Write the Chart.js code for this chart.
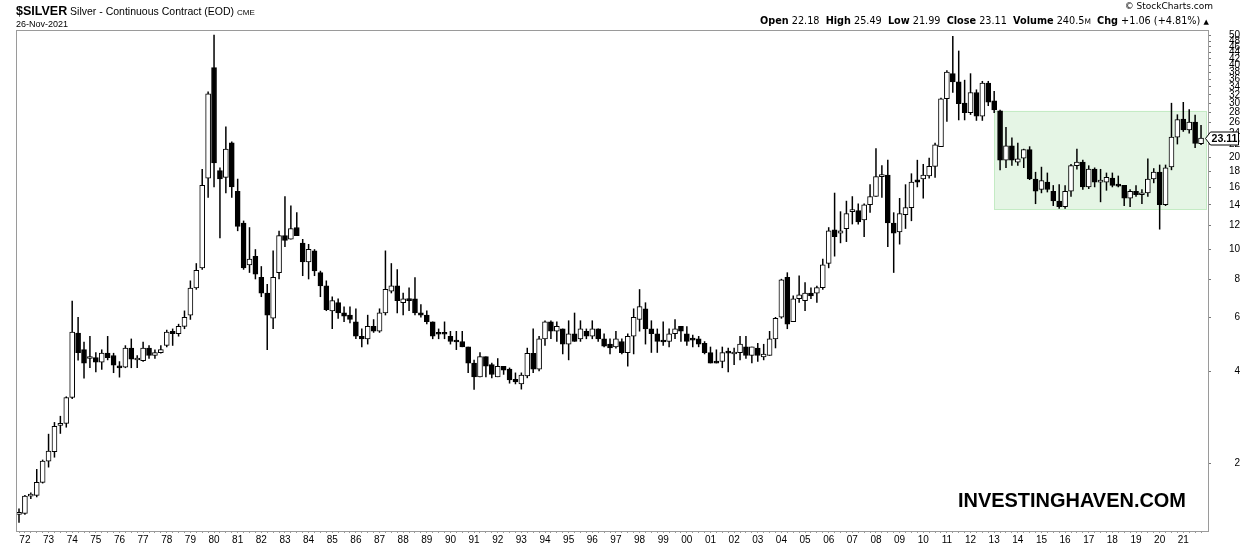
<!DOCTYPE html>
<html>
<head>
<meta charset="utf-8">
<title>$SILVER quarterly</title>
<script src="https://cdn.jsdelivr.net/npm/chart.js@4.4.1/dist/chart.umd.min.js"></script>
<style>
  html, body { margin: 0; padding: 0; background: #fff; }
  #wrap { position: relative; width: 1240px; height: 546px; overflow: hidden; }
  #wrap canvas { position: absolute; left: 0; top: 0; }
  .txt { position: absolute; white-space: nowrap; color: #000; }
  #title { left: 16px; top: 4px; font: 10.5px 'Liberation Sans', Arial, sans-serif; line-height: 14px; }
  #title b { font-size: 12.5px; }
  #title .cme { font-size: 8px; }
  #date { left: 16px; top: 19px; font: 9px 'Liberation Sans', Arial, sans-serif; line-height: 10px; }
  #copy { right: 27px; top: 1px; font: 9px 'DejaVu Sans', Verdana, sans-serif; line-height: 10px; }
  #quote { left: 760px; top: 15px; font: 9.7px 'DejaVu Sans', Verdana, sans-serif; line-height: 11px; }
  #quote .m { font-size: 7.5px; }
  #quote .tri { font-size: 7px; }
  #brand { left: 958px; top: 489px; font: bold 21px 'Liberation Sans', Arial, sans-serif; line-height: 22px;
           transform: scaleX(0.95); transform-origin: 0 0; }
</style>
</head>
<body>
<div id="wrap">
  <canvas id="silverChart" width="1240" height="546"></canvas>
  <div class="txt" id="title"><b>$SILVER</b> Silver - Continuous Contract (EOD) <span class="cme">CME</span></div>
  <div class="txt" id="date">26-Nov-2021</div>
  <div class="txt" id="copy">© StockCharts.com</div>
  <div class="txt" id="quote"><b>Open</b> 22.18&nbsp;&nbsp;<b>High</b> 25.49&nbsp;&nbsp;<b>Low</b> 21.99&nbsp;&nbsp;<b>Close</b> 23.11&nbsp;&nbsp;<b>Volume</b> 240.5<span class="m">M</span>&nbsp;&nbsp;<b>Chg</b> +1.06 (+4.81%) <span class="tri">▲</span></div>
  <div class="txt" id="brand">INVESTINGHAVEN.COM</div>
</div>
<script>
// quarterly candles, first one is 1971 Q4, last one 2021 Q4
const years = ['72','73','74','75','76','77','78','79','80','81','82','83','84','85','86','87','88','89','90','91',
               '92','93','94','95','96','97','98','99','00','01','02','03','04','05','06','07','08','09','10','11',
               '12','13','14','15','16','17','18','19','20','21'];
const firstQ1 = 1; // index of 1972 Q1

const opens = [
  1.36,
  1.37,1.56,1.57,1.73,  2.03,2.18,2.66,2.70,  3.28,5.33,4.70,4.40,  4.43,4.28,4.58,4.50,
  4.15,4.12,4.76,4.35,  4.33,4.76,4.50,4.60,  4.85,5.40,5.30,5.60,  6.10,7.48,8.70,17.1,
  39.3,18.1,17.2,22.3,  15.5,12.2,8.9,9.5,    8.1,7.2,5.96,8.4,     11.1,10.8,11.8,10.5,
  9.1,9.9,8.4,7.6,      6.3,6.7,6.2,6.1,      5.8,5.2,5.1,5.6,      5.4,6.2,7.3,7.6,
  6.7,6.9,6.9,6.2,      6.1,5.8,5.3,5.32,     5.2,5.02,5.0,4.8,     4.25,3.83,4.46,4.2,
  3.83,4.15,4.06,3.76,  3.63,3.86,4.57,4.06,  5.1,5.8,5.4,5.5,      4.9,5.3,5.1,5.4,
  5.2,5.5,5.1,4.9,      4.8,5.0,4.6,5.2,      5.9,6.4,5.5,5.3,      5.02,5.0,5.3,5.6,
  5.3,5.08,5.1,4.93,    4.6,4.3,4.3,4.6,      4.55,4.6,4.8,4.5,     4.76,4.45,4.5,5.1,
  6.0,8.1,5.8,6.9,      6.8,7.2,7.2,7.5,      9.0,11.6,11.3,11.7,   13.3,13.4,12.5,14.0,
  14.9,17.3,17.5,12.2,  11.4,13.0,13.7,16.9,  17.0,17.4,18.7,21.7,  31.1,37.6,35.3,30.1,
  28.0,32.6,27.3,35.0,  30.6,28.4,19.6,21.8,  19.3,19.9,21.2,17.0,  15.7,16.6,15.5,14.4,
  13.8,15.5,18.8,19.3,  16.0,18.3,16.6,16.6,  17.1,16.3,16.2,14.7,  15.5,15.1,15.3,17.0,
  17.9,14.0,18.6,23.3,  26.7,24.6,26.1,22.18
];
const highs = [
  1.42,
  1.57,1.60,1.91,2.05,  2.49,2.72,2.85,3.30,  6.78,6.00,4.98,5.20,  4.60,4.70,5.20,4.58,
  4.30,4.85,5.10,4.50,  4.98,4.85,4.70,4.85,  5.45,5.50,5.70,6.30,  7.90,9.00,18.3,32.8,
  50.3,18.5,25.2,22.5,  17.0,12.4,11.8,10.0,  8.8,7.7,9.9,11.5,     14.9,13.9,13.2,10.8,
  10.4,10.0,8.5,7.9,    7.0,6.9,6.5,6.5,      6.4,5.5,6.1,5.9,      6.4,9.9,9.0,8.6,
  7.2,7.5,8.1,6.6,      6.3,5.8,5.5,5.8,      5.4,5.4,5.4,4.8,      4.35,4.6,4.46,4.25,
  4.4,4.15,4.1,3.95,    3.95,4.76,5.5,5.2,    5.85,5.85,5.8,5.5,    5.85,6.2,5.85,5.5,
  5.85,5.5,5.3,5.1,     5.4,5.1,5.3,6.4,      7.4,6.7,5.85,5.5,     5.8,5.5,5.9,5.6,
  5.6,5.25,5.2,5.0,     4.8,4.7,4.8,4.76,     4.76,5.2,5.2,4.8,     4.93,4.9,5.4,6.0,
  8.0,8.4,7.05,8.2,     7.8,7.5,7.6,9.3,      11.8,15.3,13.3,14.4,  14.9,14.1,14.1,16.3,
  21.4,18.8,19.6,13.2,  14.7,16.3,17.7,19.6,  19.0,19.9,22.3,31.3,  38.5,49.8,44.6,35.8,
  37.6,33.3,35.5,35.5,  32.9,28.6,25.1,23.2,  22.3,21.3,21.7,17.9,  18.6,17.8,16.2,16.3,
  16.2,19.0,21.3,19.6,  18.8,18.5,18.3,17.8,  17.8,17.4,16.2,15.7,  16.2,15.7,19.8,18.4,
  18.9,18.9,30.1,27.6,  30.3,28.7,27.5,25.49
];
const lows = [
  1.28,
  1.36,1.53,1.55,1.72,  1.94,2.09,2.50,2.62,  3.25,4.34,3.79,4.10,  3.97,4.05,4.35,3.95,
  3.82,4.10,4.10,4.10,  4.30,4.40,4.40,4.58,  4.80,4.85,5.20,5.50,  5.90,7.40,8.60,14.8,
  16.0,10.9,15.3,14.8,  11.5,8.6,8.4,8.0,     7.0,4.7,5.5,8.0,      10.2,10.8,11.1,8.2,
  8.0,8.2,7.0,6.3,      5.5,5.95,5.8,5.75,    5.1,4.8,4.9,5.35,     5.35,6.1,7.2,6.2,
  6.1,6.3,6.1,6.0,      5.7,5.1,5.1,5.1,      4.9,4.7,4.8,3.95,     3.48,3.83,3.83,3.8,
  3.83,3.9,3.65,3.63,   3.49,3.8,3.95,4.0,    4.85,5.1,5.0,4.55,    4.35,5.0,5.0,5.1,
  5.1,5.0,4.8,4.55,     4.75,4.55,4.15,4.55,  5.4,4.9,4.6,4.6,      4.85,4.8,5.1,5.0,
  4.85,4.8,4.8,4.55,    4.25,4.25,4.1,3.97,   4.2,4.35,4.4,4.25,    4.3,4.35,4.5,4.76,
  5.95,5.5,5.8,6.7,     6.3,6.9,6.7,7.4,      8.7,9.5,10.5,10.6,    12.1,12.1,11.0,13.2,
  14.9,14.8,10.2,8.4,   10.4,11.7,12.4,16.0,  14.7,17.1,17.2,21.7,  26.2,32.6,26.5,26.5,
  27.6,26.4,26.4,29.5,  28.0,18.2,18.5,18.8,  18.8,18.5,16.9,14.1,  15.3,15.4,13.9,13.6,
  13.6,14.9,18.3,15.7,  15.8,16.0,14.3,15.6,  16.0,16.0,13.9,13.8,  14.9,14.1,14.9,16.5,
  11.64,13.9,18.2,22.1, 24.3,24.0,21.5,21.99
];
const closes = [
  1.37,
  1.56,1.57,1.73,2.03,  2.19,2.64,2.68,3.28,  5.37,4.60,4.25,4.45,  4.28,4.58,4.43,4.18,
  4.10,4.76,4.38,4.36,  4.76,4.50,4.60,4.70,  5.37,5.30,5.60,6.00,  7.48,8.55,16.2,32.3,
  19.2,17.0,21.3,16.0,  11.9,8.7,9.3,8.3,     7.2,6.1,8.1,11.1,     10.7,11.7,11.1,9.1,
  10.0,8.5,7.6,6.35,    6.8,6.2,6.05,5.9,     5.2,5.1,5.6,5.4,      6.2,7.4,7.6,6.8,
  6.9,6.8,6.2,6.1,      5.8,5.2,5.28,5.28,    5.0,4.98,4.8,4.25,    3.83,4.46,4.15,3.9,
  4.15,4.03,3.74,3.69,  3.88,4.57,4.06,5.1,   5.8,5.4,5.6,4.9,      5.3,5.0,5.5,5.2,
  5.5,5.1,4.83,4.76,    5.1,4.6,5.2,6.0,      6.5,5.5,5.3,5.0,      4.98,5.3,5.5,5.4,
  5.0,5.05,4.9,4.6,     4.25,4.25,4.6,4.58,   4.6,4.9,4.5,4.8,      4.5,4.55,5.1,5.95,
  7.95,5.7,6.9,7.1,     7.2,7.05,7.5,8.9,     11.5,11.0,11.5,13.1,  13.4,12.3,14.0,14.9,
  17.3,17.5,12.2,11.3,  13.1,13.7,16.6,16.6,  17.5,18.7,22.0,31.1,  38.0,35.3,30.0,28.0,
  32.6,27.3,35.0,30.3,  28.6,19.6,21.8,19.6,  19.8,21.2,17.0,15.5,  16.8,15.7,14.4,13.8,
  15.5,18.8,19.3,16.0,  18.3,16.6,16.8,17.2,  16.2,16.1,14.7,15.5,  15.1,15.3,17.0,17.9,
  14.0,18.5,23.3,26.6,  24.6,26.1,22.2,23.11
];

const yTicks = [2,4,6,8,10,12,14,16,18,20,22,24,26,28,30,32,34,36,38,40,42,44,46,48,50];

// shaded trading range drawn behind the candles (quarter index / price)
const rangeBox = { fromQ: 165, toQ: 201, low: 13.55, high: 28.4 };

const fontFamily = "'Liberation Sans', Arial, sans-serif";
Chart.defaults.font.family = fontFamily;
Chart.defaults.color = '#000';

const wickData = lows.map((l, i) => ({ x: i, y: [l, highs[i]] }));
const bodyData = opens.map((o, i) => ({ x: i, y: [Math.min(o, closes[i]), Math.max(o, closes[i])] }));
const bodyFill = opens.map((o, i) => closes[i] < o ? '#000' : '#fff');

// light green range box
const rangePlugin = {
  id: 'rangeBox',
  beforeDatasetsDraw(chart) {
    const { ctx, scales: { x, y } } = chart;
    const x1 = x.getPixelForValue(rangeBox.fromQ);
    const x2 = x.getPixelForValue(rangeBox.toQ);
    const y1 = y.getPixelForValue(rangeBox.high);
    const y2 = y.getPixelForValue(rangeBox.low);
    ctx.save();
    ctx.fillStyle = '#e5f5e5';
    ctx.fillRect(x1, y1, x2 - x1, y2 - y1);
    ctx.strokeStyle = '#c4ebc4';
    ctx.lineWidth = 1;
    ctx.strokeRect(Math.round(x1) + 0.5, Math.round(y1) + 0.5, Math.round(x2 - x1) - 1, Math.round(y2 - y1));
    ctx.restore();
  }
};

// grey frame round the plot
const framePlugin = {
  id: 'frame',
  afterDatasetsDraw(chart) {
    const { ctx, chartArea: a } = chart;
    ctx.save();
    ctx.strokeStyle = '#9a9a9a';
    ctx.lineWidth = 1;
    ctx.strokeRect(Math.round(a.left) + 0.5, Math.round(a.top) + 0.5,
                   Math.round(a.right - a.left), Math.round(a.bottom - a.top));
    ctx.restore();
  }
};

// last price tag on the right axis
const tagPlugin = {
  id: 'lastTag',
  afterDraw(chart) {
    const { ctx, chartArea: a, scales: { y } } = chart;
    const last = closes[closes.length - 1];
    const py = Math.round(y.getPixelForValue(last)) + 0.5;
    const left = a.right - 2.5;
    ctx.save();
    ctx.beginPath();
    ctx.moveTo(left, py);
    ctx.lineTo(left + 5, py - 6.5);
    ctx.lineTo(1238.5, py - 6.5);
    ctx.lineTo(1238.5, py + 6.5);
    ctx.lineTo(left + 5, py + 6.5);
    ctx.closePath();
    ctx.fillStyle = '#fff';
    ctx.fill();
    ctx.strokeStyle = '#000';
    ctx.lineWidth = 1;
    ctx.stroke();
    ctx.fillStyle = '#000';
    ctx.font = 'bold 11.5px ' + fontFamily;
    ctx.textBaseline = 'middle';
    ctx.textAlign = 'left';
    ctx.fillText(last.toFixed(2), left + 6, py + 0.5, 26);
    ctx.restore();
  }
};

const ctx = document.getElementById('silverChart').getContext('2d');
const silverChart = new Chart(ctx, {
  type: 'bar',
  data: {
    datasets: [{
      label: 'body',
      data: bodyData,
      backgroundColor: bodyFill,
      borderColor: '#000',
      borderWidth: 1,
      borderSkipped: false,
      barThickness: 5,
      minBarLength: 2,
      grouped: false,
      order: 0,
    }, {
      label: 'wick',
      data: wickData,
      backgroundColor: '#000',
      borderWidth: 0,
      barThickness: 1,
      inflateAmount: 0.25,
      grouped: false,
      order: 1,
    }],
  },
  options: {
    responsive: false,
    animation: false,
    devicePixelRatio: 1,
    layout: { padding: { left: 16, top: 30, right: 0, bottom: 0 }, autoPadding: false },
    plugins: { legend: { display: false }, tooltip: { enabled: false } },
    scales: {
      x: {
        type: 'linear',
        min: -0.508,
        max: 201.18,
        offset: false,
        afterBuildTicks: (scale) => { scale.ticks = opens.map((_, i) => ({ value: i })); },
        afterFit: (scale) => { scale.height = 15; },
        ticks: {
          autoSkip: false,
          maxRotation: 0,
          minRotation: 0,
          padding: 1,
          font: { size: 10 },
          callback: (v) => (v >= firstQ1 && (v - firstQ1) % 4 === 0) ? years[(v - firstQ1) / 4] : '',
        },
        grid: { drawOnChartArea: false, offset: false, tickLength: 2, tickColor: '#999' },
        border: { display: false },
      },
      y: {
        type: 'logarithmic',
        position: 'right',
        min: 1.2,
        max: 52.2,
        afterBuildTicks: (scale) => { scale.ticks = yTicks.map(v => ({ value: v })); },
        afterFit: (scale) => { scale.width = 32; },
        ticks: {
          autoSkip: false,
          crossAlign: 'far',
          padding: 1,
          font: { size: 10 },
          callback: (v) => String(v),
        },
        grid: { drawOnChartArea: false, tickLength: 3, tickColor: '#777' },
        border: { display: false },
      },
    },
  },
  plugins: [rangePlugin, framePlugin, tagPlugin],
});
</script>
</body>
</html>
